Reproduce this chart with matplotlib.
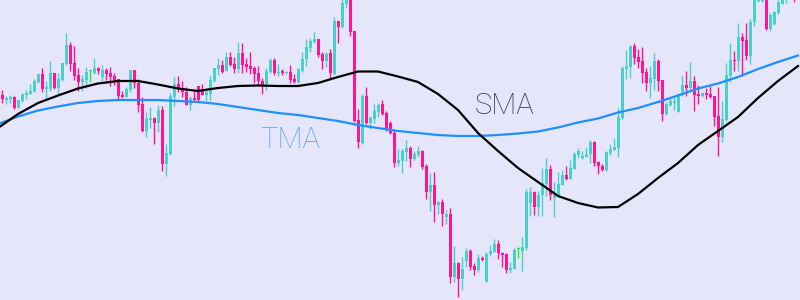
import numpy as np
import matplotlib
matplotlib.use("Agg")
import matplotlib.pyplot as plt

# --- OHLC data (price units) ---
opens = [205, 200, 201, 203, 192, 199, 205, 206, 208, 218, 226, 211, 211, 227, 212, 220, 236, 255, 237, 225,
         218, 220, 229, 227, 232, 223, 230, 227, 224, 221, 205, 203, 210, 230, 217, 196, 169, 180, 182, 177,
         190, 136, 146, 203, 216, 212, 208, 195, 202, 214, 211, 205, 206, 219, 231, 235, 229, 243, 236, 231,
         247, 236, 234, 232, 227, 219, 215, 228, 240, 227, 229, 227, 228, 221, 218, 229, 241, 252, 258, 261,
         246, 239, 247, 226, 279, 273, 296, 303, 269, 180, 157, 204, 177, 181, 188, 196, 187, 177, 167, 137,
         139, 148, 152, 141, 145, 149, 134, 108, 115, 95, 98, 83, 86, 23, 37, 21, 39, 49, 34, 30,
         42, 18, 46, 48, 56, 47, 46, 30, 31, 51, 49, 52, 97, 108, 93, 105, 116, 131, 102, 104,
         115, 125, 121, 131, 145, 142, 143, 146, 158, 138, 134, 130, 147, 150, 152, 182, 231, 233, 254, 243,
         239, 228, 217, 221, 239, 220, 186, 195, 197, 188, 208, 215, 212, 219, 206, 204, 207, 206, 204, 184,
         163, 180, 224, 240, 239, 263, 260, 244, 278, 299, 299, 308, 271, 276, 287, 296, 305, 310, 315, 308]
highs = [210, 204, 205, 204, 200, 207, 210, 216, 221, 226, 232, 219, 239, 227, 227, 237, 267, 258, 254, 232,
         225, 233, 230, 242, 233, 235, 232, 233, 227, 221, 209, 213, 230, 230, 221, 203, 188, 193, 183, 195,
         194, 156, 207, 223, 224, 219, 213, 204, 209, 214, 216, 212, 224, 232, 242, 240, 248, 248, 243, 258,
         257, 242, 248, 234, 234, 222, 232, 242, 242, 236, 231, 229, 235, 226, 232, 248, 261, 262, 268, 261,
         248, 248, 251, 283, 279, 302, 310, 306, 269, 191, 206, 213, 184, 196, 197, 200, 189, 179, 171, 151,
         151, 160, 154, 149, 154, 150, 136, 127, 128, 99, 101, 90, 92, 54, 38, 43, 52, 51, 37, 46,
         44, 48, 55, 61, 60, 48, 47, 38, 52, 53, 63, 111, 113, 109, 109, 132, 142, 135, 118, 128,
         130, 134, 140, 148, 152, 149, 153, 160, 159, 139, 136, 149, 156, 162, 192, 234, 250, 255, 257, 251,
         253, 232, 234, 247, 241, 220, 198, 203, 203, 207, 225, 229, 238, 224, 215, 208, 212, 214, 204, 213,
         199, 237, 257, 249, 277, 267, 277, 281, 315, 312, 310, 312, 287, 289, 300, 312, 320, 325, 320, 325]
lows = [197, 196, 197, 191, 192, 198, 201, 206, 208, 217, 208, 202, 209, 211, 206, 219, 235, 229, 220, 209,
        209, 212, 218, 226, 226, 219, 220, 214, 215, 201, 202, 203, 208, 212, 188, 168, 163, 172, 156, 168,
        129, 124, 145, 194, 208, 203, 195, 190, 200, 199, 205, 199, 199, 218, 225, 227, 229, 234, 227, 227,
        227, 228, 226, 217, 215, 206, 210, 227, 225, 224, 225, 226, 217, 217, 217, 228, 234, 248, 257, 243,
        231, 233, 222, 225, 257, 272, 292, 264, 178, 152, 156, 176, 171, 177, 183, 185, 169, 166, 133, 134,
        127, 139, 133, 140, 143, 131, 101, 89, 78, 86, 74, 76, 17, 18, 3, 10, 33, 30, 25, 28,
        39, 18, 44, 48, 41, 33, 27, 27, 31, 42, 29, 50, 84, 85, 84, 84, 104, 100, 83, 104,
        115, 120, 121, 131, 142, 141, 143, 137, 134, 126, 129, 129, 145, 150, 143, 181, 221, 222, 236, 232,
        217, 209, 202, 210, 209, 179, 185, 194, 190, 188, 204, 204, 210, 189, 196, 203, 201, 202, 174, 144,
        158, 179, 218, 229, 229, 224, 240, 236, 274, 298, 298, 270, 269, 275, 286, 296, 297, 305, 298, 302]
closes = [201, 202, 203, 192, 200, 206, 207, 209, 219, 226, 211, 213, 227, 212, 221, 237, 255, 236, 224, 218,
          221, 228, 229, 232, 229, 230, 226, 223, 219, 204, 203, 211, 230, 217, 195, 169, 181, 182, 177, 190,
          136, 147, 204, 216, 212, 208, 195, 202, 200, 200, 205, 208, 220, 232, 235, 228, 243, 235, 231, 247,
          235, 233, 231, 226, 219, 215, 229, 240, 227, 228, 227, 228, 220, 218, 231, 241, 253, 259, 261, 245,
          239, 246, 227, 279, 273, 297, 304, 268, 179, 158, 204, 177, 182, 189, 195, 186, 170, 167, 137, 140,
          149, 152, 141, 146, 149, 133, 108, 115, 95, 98, 86, 86, 23, 37, 21, 31, 49, 33, 30, 42,
          40, 46, 49, 56, 47, 45, 30, 32, 50, 51, 53, 108, 108, 93, 105, 117, 131, 105, 105, 116,
          125, 121, 132, 146, 149, 144, 146, 158, 137, 134, 130, 148, 151, 153, 183, 232, 234, 254, 242, 238,
          227, 217, 222, 239, 219, 186, 196, 199, 199, 205, 215, 212, 219, 205, 204, 207, 205, 203, 183, 163,
          181, 225, 240, 239, 263, 259, 244, 278, 308, 306, 305, 271, 285, 288, 298, 308, 315, 320, 305, 320]

# --- moving averages, sampled every 5 bars ---
ma_bars = list(range(-1, 202, 5))
sma = [172, 186, 197, 204.5, 211.5, 216.5, 219, 219, 215.5, 211.5, 209, 212, 214, 214.5, 214, 214, 217, 223,
       228.5, 228.5, 223.5, 218, 206, 190, 167, 149, 132, 118, 104, 97, 92.5, 93, 106, 122, 137, 155, 169, 183,
       202, 219, 234]
tma = [176, 183.5, 189.5, 193.5, 197, 199, 200, 200, 200, 199, 198, 196, 193, 190, 187, 185, 182, 179, 175,
       172, 169, 167, 165, 164, 164, 165, 166.5, 168.5, 172.5, 177.5, 181.5, 187.5, 192, 198, 204.5, 211.5,
       216.5, 223, 231, 238, 244.5]

bg = "#e6e6fa"
up_col = "#48d1cc"
down_col = "#ff1493"
doji_col = "#22ee22"

fig = plt.figure(figsize=(8, 3), dpi=100, facecolor=bg)
ax = fig.add_axes([0, 0, 1, 1])
ax.set_facecolor(bg)

o = np.array(opens, dtype=float)
h = np.array(highs, dtype=float)
l = np.array(lows, dtype=float)
c = np.array(closes, dtype=float)
idx = np.arange(len(o))

cols = np.where(c > o, up_col, down_col).astype(object)
cols[c == o] = doji_col

ax.vlines(idx, l, h, colors=cols, linewidth=1.0, zorder=2)
body_lo = np.minimum(o, c)
body_h = np.maximum(np.abs(c - o), 1.0)
ax.bar(idx, body_h, bottom=body_lo, width=0.75, color=cols, linewidth=0, zorder=3)

ax.plot(ma_bars, tma, color="#1e8fff", linewidth=1.6, zorder=4)
ax.plot(ma_bars, sma, color="black", linewidth=1.6, zorder=5)

font = ["Roboto", "DejaVu Sans"]
ax.text(0.63, 0.647, "SMA", transform=ax.transAxes, ha="center", va="center",
        fontsize=21, fontweight="light", family=font, color="#333340")
ax.text(0.3625, 0.533, "TMA", transform=ax.transAxes, ha="center", va="center",
        fontsize=21, fontweight="light", family=font, color="#5aa2f2")

ax.set_xlim(-0.5, len(o) - 0.5)
ax.set_ylim(0, 300)
ax.axis("off")

fig.savefig("out.png", dpi=100, facecolor=bg)
